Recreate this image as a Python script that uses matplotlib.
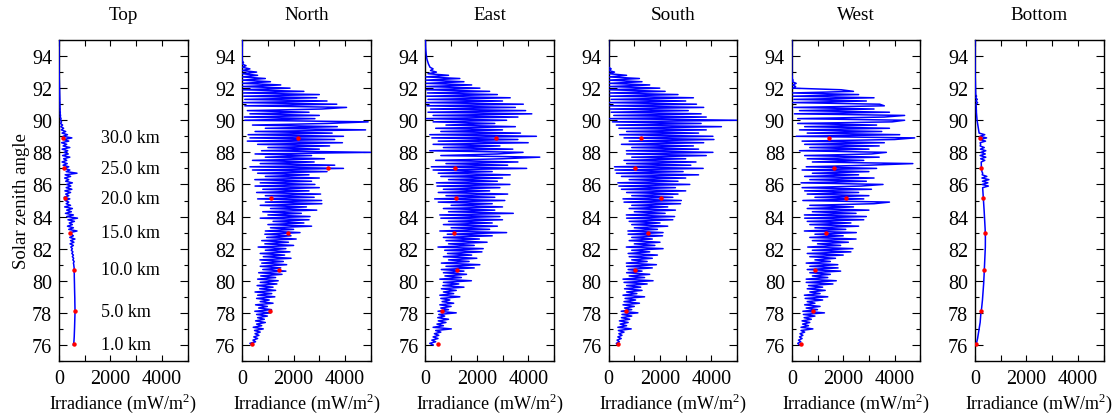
import matplotlib
matplotlib.use("Agg")
import matplotlib.pyplot as plt
import numpy as np
from matplotlib.ticker import FixedLocator, FuncFormatter, MultipleLocator

plt.rcParams.update({
    "font.family": ["Liberation Serif", "DejaVu Serif"],
    "font.size": 13,
    "mathtext.fontset": "custom",
    "mathtext.rm": "Liberation Serif",
    "axes.linewidth": 1.0,
})

PANELS = ["Top", "North", "East", "South", "West", "Bottom"]

# Solar zenith angle sample grid (0.1 degree steps, 76 to 95)
ZENITH = np.round(np.arange(76.0, 95.05, 0.1), 1)

# Irradiance (mW/m^2), one row per degree of zenith angle
IRR_TOP = [
    560, 570, 580, 585, 590, 592, 595, 598, 600, 602,
    604, 606, 608, 610, 612, 614, 615, 616, 618, 620,
    622, 624, 622, 620, 621, 619, 618, 616, 617, 615,
    612, 613, 610, 608, 609, 606, 604, 605, 602, 600,
    598, 600, 596, 594, 595, 590, 588, 585, 590, 580,
    575, 560, 590, 540, 570, 520, 560, 500, 540, 480,
    520, 460, 560, 430, 580, 450, 620, 420, 560, 480,
    430, 700, 380, 560, 330, 520, 400, 600, 350, 720,
    300, 560, 250, 480, 300, 520, 220, 450, 280, 380,
    240, 420, 200, 380, 260, 450, 230, 500, 280, 460,
    300, 520, 260, 380, 220, 450, 240, 700, 280, 420,
    200, 380, 160, 320, 120, 300, 180, 420, 140, 360,
    200, 340, 120, 420, 160, 300, 100, 380, 180, 500,
    160, 330, 120, 260, 90, 180, 70, 140, 60, 100,
    60, 80, 50, 60, 45, 50, 40, 45, 38, 40,
    35, 38, 32, 34, 30, 30, 28, 26, 24, 22,
    20, 18, 16, 15, 14, 12, 10, 9, 8, 7,
    6, 5, 5, 4, 4, 3, 3, 2, 2, 2,
    1, 1, 1, 1, 1, 0, 0, 0, 0, 0, 0,
]
IRR_NORTH = [
    380, 300, 520, 420, 600, 450, 650, 500, 700, 480,
    820, 430, 760, 560, 900, 520, 860, 600, 980, 560,
    1100, 490, 1140, 640, 980, 520, 1200, 700, 1050, 560,
    1270, 600, 1150, 500, 1300, 680, 1200, 580, 1350, 700,
    1400, 600, 1300, 720, 1550, 640, 1700, 800, 1500, 700,
    1730, 760, 1600, 690, 1900, 820, 1650, 700, 1860, 900,
    1700, 620, 2000, 880, 1800, 760, 2100, 950, 1900, 880,
    2250, 900, 2000, 1100, 2700, 1000, 2400, 1200, 2600, 700,
    2640, 1000, 2300, 800, 2900, 1100, 2500, 700, 3100, 900,
    3090, 600, 2800, 900, 3050, 560, 2600, 800, 3000, 500,
    2830, 700, 2700, 490, 3000, 900, 2600, 600, 3300, 400,
    3940, 300, 3600, 700, 2800, 400, 3200, 900, 2700, 500,
    5000, 750, 3000, 1000, 3400, 600, 3900, 200, 3600, 300,
    3940, 230, 3500, 500, 4800, 900, 3700, 400, 3300, 4900,
    100, 2830, 80, 3000, 300, 2600, 200, 3100, 4060, 100,
    3680, 50, 3300, 100, 2900, 60, 3000, 40, 2400, 30,
    1860, 20, 1500, 10, 1100, 10, 900, 0, 600, 0,
    560, 0, 300, 0, 150, 0, 50, 0, 0, 0,
    0, 0, 0, 0, 0, 0, 0, 0, 0, 0, 0,
]
IRR_EAST = [
    300, 170, 400, 250, 490, 300, 520, 350, 600, 400,
    1010, 300, 700, 450, 800, 500, 900, 480, 750, 520,
    1200, 490, 900, 600, 1000, 560, 1100, 650, 950, 600,
    1340, 560, 1100, 700, 1200, 620, 1500, 680, 1300, 700,
    1790, 560, 1400, 760, 1600, 700, 1500, 620, 1900, 800,
    2120, 620, 1700, 900, 2000, 700, 1800, 860, 2200, 750,
    2250, 490, 1900, 900, 2400, 800, 2100, 700, 2600, 850,
    3160, 560, 2500, 1000, 2800, 700, 2600, 900, 3000, 600,
    2900, 560, 3420, 900, 2700, 700, 3000, 1000, 2600, 500,
    3090, 360, 2700, 800, 3200, 500, 2500, 700, 2900, 450,
    3290, 430, 2800, 900, 3000, 600, 3300, 500, 2600, 300,
    3940, 230, 3200, 800, 3600, 400, 3000, 4450, 600, 2800,
    3800, 170, 3400, 700, 2900, 300, 4000, 500, 3600, 250,
    4320, 170, 3700, 600, 3000, 400, 3500, 800, 2700, 300,
    3160, 40, 3600, 300, 4140, 100, 3900, 200, 3500, 60,
    3810, 40, 3000, 100, 3300, 50, 2800, 80, 2500, 40,
    2120, 40, 1800, 30, 1500, 20, 1340, 20, 900, 100,
    430, 200, 300, 180, 150, 120, 100, 80, 60, 50,
    40, 32, 25, 20, 15, 10, 8, 5, 3, 2, 0,
]
IRR_SOUTH = [
    350, 300, 420, 330, 490, 360, 520, 400, 600, 380,
    880, 360, 700, 450, 760, 420, 820, 500, 900, 520,
    1140, 490, 900, 620, 1000, 560, 1200, 600, 1050, 640,
    1400, 560, 1100, 700, 1300, 620, 1250, 700, 1500, 600,
    1730, 560, 1400, 800, 1600, 700, 1300, 760, 1700, 700,
    1860, 690, 1500, 900, 1700, 800, 1900, 760, 1600, 900,
    2120, 690, 1800, 1000, 2000, 800, 1700, 900, 2100, 760,
    2120, 750, 1900, 1000, 2300, 900, 2000, 800, 2500, 700,
    2570, 690, 2200, 1000, 2600, 800, 2300, 900, 2800, 600,
    2830, 560, 2500, 900, 2700, 700, 3000, 500, 2600, 400,
    3160, 360, 2700, 800, 3000, 500, 3500, 300, 2900, 250,
    3680, 230, 3200, 700, 3400, 600, 3000, 900, 3800, 700,
    4060, 690, 3500, 900, 3300, 500, 3700, 800, 4100, 600,
    4060, 430, 3500, 700, 3800, 400, 4390, 300, 3600, 150,
    5000, 40, 3800, 200, 3600, 100, 3100, 60, 3700, 50,
    3420, 40, 3000, 100, 3300, 60, 2700, 50, 2200, 40,
    1990, 40, 1600, 30, 1300, 20, 1200, 20, 700, 10,
    230, 10, 100, 5, 0, 0, 0, 0, 0, 0,
    0, 0, 0, 0, 0, 0, 0, 0, 0, 0, 0,
]
IRR_WEST = [
    300, 230, 350, 260, 400, 300, 430, 320, 500, 360,
    820, 360, 650, 420, 700, 400, 760, 480, 900, 450,
    1270, 430, 1000, 560, 1100, 500, 900, 600, 1200, 520,
    1400, 490, 1100, 700, 1300, 600, 1200, 650, 1600, 560,
    1730, 560, 1400, 800, 1500, 700, 1900, 600, 1800, 700,
    1790, 560, 1500, 900, 1700, 700, 2000, 600, 2300, 800,
    2380, 620, 1900, 1000, 2200, 800, 2500, 700, 2000, 900,
    2510, 490, 2100, 900, 2600, 700, 2300, 600, 2800, 500,
    2900, 490, 2500, 800, 3000, 600, 2400, 700, 3200, 3800,
    430, 2800, 900, 3000, 600, 2600, 500, 3100, 400, 2700,
    3550, 360, 2900, 700, 3200, 500, 2600, 800, 3000, 400,
    3300, 560, 3000, 4710, 800, 2800, 600, 3400, 500, 3100,
    3680, 300, 3000, 700, 3400, 500, 3600, 400, 4000, 4780,
    170, 4200, 600, 3500, 300, 3800, 500, 3300, 230, 3900,
    4390, 230, 3600, 4390, 100, 3800, 300, 3200, 80, 3600,
    3420, 40, 2900, 80, 3200, 50, 2600, 40, 2400, 1920,
    40, 150, 40, 170, 20, 50, 10, 20, 5, 0,
    0, 0, 0, 0, 0, 0, 0, 0, 0, 0,
    0, 0, 0, 0, 0, 0, 0, 0, 0, 0, 0,
]
IRR_BOTTOM = [
    40, 55, 70, 85, 100, 110, 120, 130, 140, 150,
    160, 170, 180, 190, 200, 205, 210, 215, 220, 225,
    230, 240, 250, 258, 265, 272, 278, 284, 290, 295,
    300, 305, 310, 315, 320, 325, 330, 333, 336, 340,
    343, 346, 349, 352, 355, 358, 361, 364, 367, 370,
    373, 376, 379, 382, 385, 388, 391, 394, 396, 398,
    400, 402, 403, 404, 405, 405, 405, 404, 403, 402,
    400, 398, 395, 392, 389, 386, 383, 380, 377, 374,
    370, 366, 362, 358, 354, 350, 346, 342, 338, 334,
    330, 326, 322, 318, 314, 310, 306, 302, 298, 520,
    280, 500, 290, 540, 270, 460, 280, 300, 270, 265,
    250, 248, 246, 244, 242, 380, 220, 420, 200, 400,
    230, 420, 210, 360, 200, 220, 200, 410, 180, 450,
    190, 380, 160, 150, 140, 130, 120, 110, 100, 90,
    80, 75, 70, 65, 60, 55, 55, 50, 50, 45,
    40, 100, 35, 90, 30, 60, 28, 26, 24, 22,
    20, 18, 16, 14, 12, 10, 9, 8, 7, 6,
    5, 4, 3, 3, 2, 2, 1, 1, 1, 0,
    0, 0, 0, 0, 0, 0, 0, 0, 0, 0, 0,
]
IRRADIANCE = [IRR_TOP, IRR_NORTH, IRR_EAST, IRR_SOUTH, IRR_WEST, IRR_BOTTOM]

# Altitude markers: zenith angle at each altitude and the irradiance there
ALTITUDES = ["1.0 km", "5.0 km", "10.0 km", "15.0 km", "20.0 km", "25.0 km", "30.0 km"]
ALT_ZENITH = [76.05, 78.1, 80.7, 83.0, 85.15, 87.0, 88.9]
DOT_TOP = [570, 625, 585, 430, 235, 195, 160]
DOT_NORTH = [400, 1075, 1440, 1800, 1140, 3350, 2155]
DOT_EAST = [495, 635, 1220, 1100, 1200, 1170, 2750]
DOT_SOUTH = [360, 690, 1040, 1520, 2025, 1040, 1245]
DOT_WEST = [350, 815, 895, 1320, 2090, 1650, 1440]
DOT_BOTTOM = [50, 235, 350, 400, 325, 245, 195]
DOTS = [DOT_TOP, DOT_NORTH, DOT_EAST, DOT_SOUTH, DOT_WEST, DOT_BOTTOM]

fig = plt.figure(figsize=(11.15, 4.14), dpi=100)

ax_left, ax_w, ax_step = 59 / 1115, 128.5 / 1115, 183.2 / 1115
ax_bottom, ax_h = 52 / 414, 321 / 414

for i, name in enumerate(PANELS):
    ax = fig.add_axes([ax_left + i * ax_step, ax_bottom, ax_w, ax_h])
    ax.plot(IRRADIANCE[i], ZENITH, color="#0000ff", linewidth=1.1, zorder=3)
    ax.plot(DOTS[i], ALT_ZENITH, "o", color="#ff0000", markersize=2.2, zorder=4)

    ax.set_xlim(0, 5000)
    ax.set_ylim(75, 95)
    ax.xaxis.set_major_locator(FixedLocator([0, 1000, 2000, 3000, 4000, 5000]))
    ax.xaxis.set_major_formatter(FuncFormatter(lambda v, p: f"{v:.0f}" if v % 2000 == 0 and v < 5000 else ""))
    ax.yaxis.set_major_locator(MultipleLocator(2))
    ax.yaxis.set_minor_locator(MultipleLocator(1))
    ax.yaxis.set_major_formatter(FuncFormatter(lambda v, p: f"{v:.0f}" if 76 <= v <= 94 else ""))
    ax.tick_params(which="both", direction="in", top=True, right=True, labelsize=14.5)
    ax.tick_params(which="major", length=6, width=0.8, pad=5)
    ax.tick_params(axis="x", which="major", length=4, pad=6)
    ax.tick_params(which="minor", length=3, width=0.8)

    ax.set_title(name, fontsize=13.8, pad=15)
    ax.set_xlabel("Irradiance (mW/m$^2$)", fontsize=13, labelpad=2)
    if i == 0:
        ax.set_ylabel("Solar zenith angle", fontsize=13.5, labelpad=1)
        for label, z in zip(ALTITUDES, ALT_ZENITH):
            ax.text(1650, z, label, fontsize=13, va="center", ha="left")

fig.savefig("out.png", dpi=100)
